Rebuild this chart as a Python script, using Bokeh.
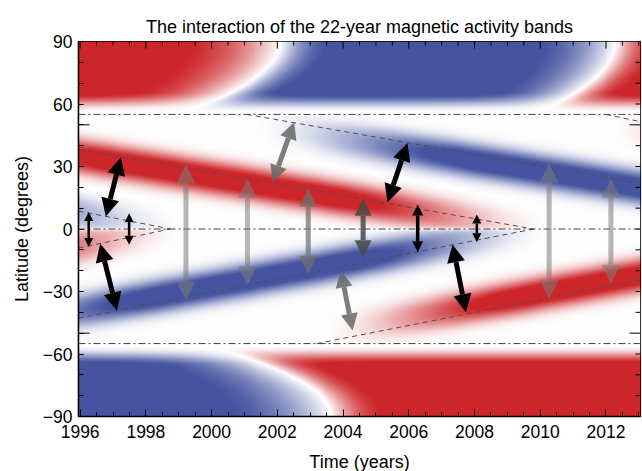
import numpy as np
from bokeh.plotting import figure
from bokeh.models import (Range1d, SingleIntervalTicker, Arrow, NormalHead,
                          ColumnDataSource, Span)
from bokeh.embed import file_html
from bokeh.resources import INLINE

# ---------------- data ----------------
x_start, x_end = 1995.95, 2013.05
y_start, y_end = -90.0, 90.0

# activity band centre lines (dashed): start/end time and latitude
band_t0   = [1995.95, 1995.95, 2001.07, 2012.0, 1995.95, 1995.95, 2003.2]
band_lat0 = [8.6, 38.2, 55.0, 55.0, -9.1, -42.8, -55.0]
band_t1   = [1998.75, 2009.8, 2013.05, 2013.05, 1998.75, 2009.8, 2013.05]
band_lat1 = [0.0, 0.0, 21.8, 51.5, 0.0, 0.0, -24.4]
band_pol  = [1, -1, 1, -1, -1, 1, -1]      # +1 blue, -1 red
band_amp  = [0.75, 1.0, 1.0, 1.0, 0.85, 1.0, 1.0]

# polar field reversals: time at the pole, lead time at 55 deg,
# decay time before and growth time after the reversal
north_rev_pole = [2002.1, 2012.3]
north_rev_lead = [3.1, 2.5]
north_rev_before = [2.0, 1.6]
north_rev_after = [1.0, 0.9]
south_rev_pole = [2003.65]
south_rev_lead = [4.0]
south_rev_before = [2.2]
south_rev_after = [1.1]

separatrix_lat = [55, 0, -55]

# arrows (x0, y0, x1, y1)
big_black = dict(x0=[1997.24, 1996.61, 2005.96, 2007.33],
                 y0=[34.5, -7.1, 41.2, -7.4],
                 x1=[1996.78, 1997.12, 2005.35, 2007.74],
                 y1=[6.0, -39.1, 12.9, -39.9])
small_black = dict(x0=[1996.26, 1997.49, 2008.07], y0=[8.2, 7.6, 7.0],
                   x1=[1996.26, 1997.49, 2008.07], y1=[-8.6, -7.6, -6.3])
mid_black = dict(x0=[2006.27], y0=[11.8], x1=[2006.27], y1=[-11.1])
light_gray = dict(x0=[1999.22, 2001.09, 2010.27, 2012.15], y0=[31.0, 24.1, 31.3, 24.1],
                  x1=[1999.22, 2001.09, 2010.27, 2012.15], y1=[-34.3, -27.1, -33.5, -26.3])
mid_gray = dict(x0=[2002.94], y0=[19.3], x1=[2002.94], y1=[-21.5])
dark_gray = dict(x0=[2004.61], y0=[14.5], x1=[2004.61], y1=[-13.5])
slant_gray = dict(x0=[2002.51, 2003.93], y0=[51.3, -19.9],
                  x1=[2001.86, 2004.29], y1=[22.5, -48.7])

x_major, x_minor_step = 2, 0.5
y_major, y_minor_step = 30, 10
long_tick_lat = [-50, 50]

# ---------------- background field ----------------
nx, ny = 570, 376
tt = x_start + (np.arange(nx) + 0.5) * (x_end - x_start) / nx
ll = y_start + (np.arange(ny) + 0.5) * (y_end - y_start) / ny
T, L = np.meshgrid(tt, ll)


def ss(e0, e1, x):
    u = np.clip((x - e0) / (e1 - e0), 0, 1)
    return u * u * (3 - 2 * u)


def step(dt, before, after):
    return np.where(dt < 0, np.tanh(dt / before), np.tanh(dt / after))


field = np.zeros_like(T)
for t0, a0, t1, a1, pol, amp in zip(band_t0, band_lat0, band_t1, band_lat1, band_pol, band_amp):
    hemi = 1.0 if a0 > 0 else -1.0
    c = a0 + (a1 - a0) / (t1 - t0) * (T - t0)
    ac = c * hemi
    valid = (ac > -2) & (ac <= 55)
    A = ss(55, 35, ac) * ss(-2, 18, ac) * amp
    centre = c * 0.92
    prof = np.exp(-(np.abs(L - centre) / 8.0) ** 2.5)
    eq = ss(-1, 2, L * hemi)
    field += np.where(valid, pol * A * prof * eq, 0.0)

aL = np.abs(L)
q = ((90 - aL) / 35.0) ** 2
n1 = north_rev_pole[0] - north_rev_lead[0] * q
n2 = north_rev_pole[1] - north_rev_lead[1] * q
s1 = south_rev_pole[0] - south_rev_lead[0] * q
vn = -step(T - n1, north_rev_before[0], north_rev_after[0]) * \
    step(T - n2, north_rev_before[1], north_rev_after[1])
vs = -step(T - s1, south_rev_before[0], south_rev_after[0])
polar = np.where(L > 0, vn, vs) * ss(56, 66, aL) * 0.95
field = np.where(aL > 55, polar, field)

s = np.clip(np.abs(field) * 1.2, 0, 1)[..., None]
blue = np.array([68, 84, 160], dtype=float)
red = np.array([205, 38, 42], dtype=float)
col = np.where(field[..., None] > 0, blue, red)
rgb = 255 * (1 - s) + col * s

img = np.empty((ny, nx), dtype=np.uint32)
view = img.view(dtype=np.uint8).reshape((ny, nx, 4))
view[..., 0] = rgb[..., 0].astype(np.uint8)
view[..., 1] = rgb[..., 1].astype(np.uint8)
view[..., 2] = rgb[..., 2].astype(np.uint8)
view[..., 3] = 255

# ---------------- figure ----------------
FONT = "Liberation Sans"
p = figure(frame_width=562, frame_height=375,
           x_range=Range1d(x_start, x_end), y_range=Range1d(y_start, y_end),
           output_backend="svg", toolbar_location=None,
           title="The interaction of the 22-year magnetic activity bands",
           min_border_left=78, min_border_right=2, min_border_top=41, min_border_bottom=55)
p.title.align = "center"
p.title.text_font = FONT
p.title.text_font_size = "18px"
p.title.text_font_style = "normal"
p.title.text_color = "black"
p.title.standoff = 9

p.image_rgba(image=[img], x=x_start, y=y_start, dw=x_end - x_start, dh=y_end - y_start)

# dashed centre lines
p.multi_line(xs=[[a, b] for a, b in zip(band_t0, band_t1)],
             ys=[[a, b] for a, b in zip(band_lat0, band_lat1)],
             line_color="#505050", line_width=1, line_dash="5 4")
for lat in separatrix_lat:
    p.add_layout(Span(location=lat, dimension="width", line_color="#404040",
                      line_width=1, line_dash="7 3 2 3"))


def add_arrows(d, color, alpha, lw, size):
    src = ColumnDataSource(d)

    def head():
        return NormalHead(size=size, fill_color=color, fill_alpha=alpha, line_color=None)
    p.add_layout(Arrow(start=head(), end=head(), x_start="x0", y_start="y0",
                       x_end="x1", y_end="y1", source=src,
                       line_color=color, line_alpha=alpha, line_width=lw))


add_arrows(light_gray, "#7a7a7a", 0.55, 5, 19)
add_arrows(mid_gray, "#707070", 0.72, 5, 18)
add_arrows(dark_gray, "#484848", 0.85, 5, 17)
add_arrows(slant_gray, "#666666", 0.85, 5, 17)
add_arrows(big_black, "black", 1.0, 5, 18)
add_arrows(mid_black, "black", 1.0, 3.5, 11)
add_arrows(small_black, "black", 1.0, 2.5, 9)

# axes
p.xgrid.visible = False
p.ygrid.visible = False
p.xaxis.ticker = SingleIntervalTicker(interval=x_major, num_minor_ticks=int(x_major / x_minor_step))
p.yaxis.ticker = SingleIntervalTicker(interval=y_major, num_minor_ticks=int(y_major / y_minor_step))
p.axis.major_tick_out = 0
p.axis.minor_tick_out = 0
p.xaxis.major_tick_in = 7
p.xaxis.minor_tick_in = 4
p.yaxis.major_tick_in = 5
p.yaxis.minor_tick_in = 5
p.axis.major_tick_line_color = "black"
p.axis.minor_tick_line_color = "black"
p.axis.axis_line_color = "black"
p.axis.axis_line_width = 1.5
p.axis.major_label_text_font = FONT
p.axis.major_label_text_font_size = "17.5px"
p.axis.major_label_text_color = "black"
p.xaxis.major_label_standoff = 8
p.yaxis.major_label_standoff = 6
p.yaxis.major_label_overrides = {-90: "\u221290", -60: "\u221260", -30: "\u221230"}
p.xaxis.axis_label = "Time (years)"
p.yaxis.axis_label = "Latitude (degrees)"
p.axis.axis_label_text_font = FONT
p.axis.axis_label_text_font_size = "18px"
p.axis.axis_label_text_font_style = "normal"
p.axis.axis_label_text_color = "black"
p.xaxis.axis_label_standoff = 11
p.yaxis.axis_label_standoff = 8
p.outline_line_color = "black"
p.outline_line_width = 1.2

# mirrored ticks (top / right) and long ticks at +-50
xt = np.arange(np.ceil(x_start / x_minor_step) * x_minor_step, x_end, x_minor_step)
xt_major = [v for v in xt if abs(v / x_major - round(v / x_major)) < 1e-6]
xt_minor = [v for v in xt if abs(v / x_major - round(v / x_major)) >= 1e-6]
p.ray(x=xt_major, y=y_end, length=7, angle=-np.pi / 2, length_units="screen",
      line_color="black", line_width=1)
p.ray(x=xt_minor, y=y_end, length=4, angle=-np.pi / 2, length_units="screen",
      line_color="black", line_width=1)
yt = [v for v in np.arange(y_start + y_minor_step, y_end, y_minor_step) if v not in long_tick_lat]
p.ray(x=x_end, y=yt, length=5, angle=np.pi, length_units="screen",
      line_color="black", line_width=1)
p.ray(x=x_end, y=long_tick_lat, length=11, angle=np.pi, length_units="screen",
      line_color="black", line_width=1)
p.ray(x=x_start, y=long_tick_lat, length=11, angle=0, length_units="screen",
      line_color="black", line_width=1)

open("out.html", "w").write(file_html(p, INLINE))
